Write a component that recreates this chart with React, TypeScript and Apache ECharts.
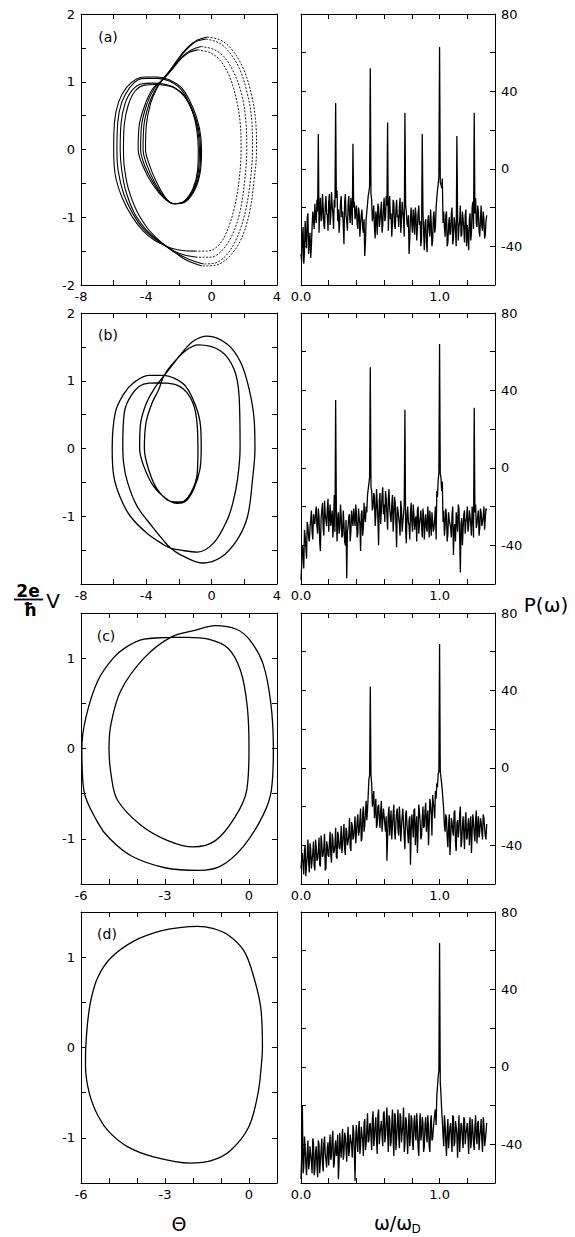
import React, { useEffect, useRef } from "react";
import * as echarts from "echarts";

const FONT = "DejaVu Sans";

// ---------------- Power spectra (right column) ----------------
// noise samples: "noiseX" on the 0.00, 0.01, ... grid, "noiseX2" on the 0.005, 0.015, ... grid
const specStep = 0.01;

const noiseA = [
  -44, -36, -49, -27, -41, -23, -38, -46, -30, -26,
  -18, -28, -22, -33, -15, -26, -20, -31, -14, -24,
  -17, -29, -12, -23, -16, -30, -11, -21, -26, -14,
  -22, -39, -13, -27, -18, -24, -15, -29, -20, -26,
  -19, -31, -23, -28, -21, -33, -45, -26, -18, -12,
  -10, -16, -24, -30, -22, -34, -20, -27, -17, -29,
  -15, -25, -19, -32, -14, -23, -28, -18, -31, -16,
  -24, -20, -33, -17, -26, -14, -22, -30, -44, -25,
  -29, -21, -34, -24, -31, -19, -27, -36, -22, -42,
  -26, -43, -24, -35, -28, -37, -22, -30, -15, -8,
  -5, -8, -5, -22, -35, -22, -38, -25, -33, -20,
  -36, -28, -40, -24, -30, -19, -34, -26, -38, -21,
  -29, -42, -23, -33, -17, -27, -15, -30, -22, -35,
  -19, -32, -26, -34, -24,
];
const noiseA2 = [
  -48, -30, -43, -35, -25, -44, -33, -40, -22, -31,
  -25, -16, -30, -21, -27, -13, -29, -19, -23, -32,
  -13, -24, -19, -31, -20, -15, -27, -33, -18, -25,
  -29, -17, -24, -32, -14, -28, -21, -33, -17, -23,
  -28, -20, -35, -24, -30, -26, -38, -22, -14, -9,
  -13, -27, -19, -36, -25, -18, -30, -22, -33, -20,
  -27, -14, -30, -22, -26, -35, -16, -29, -21, -25,
  -30, -15, -27, -22, -35, -19, -28, -24, -36, -20,
  -33, -26, -20, -37, -23, -29, -40, -25, -33, -28,
  -38, -27, -31, -21, -40, -25, -33, -20, -11, -4,
  -7, -10, -28, -30, -24, -40, -29, -34, -23, -39,
  -25, -33, -20, -37, -27, -35, -22, -31, -24, -40,
  -34, -26, -37, -20, -31, -23, -28, -19, -32, -26,
  -30, -22, -36, -27,
];
const peakXA = [0.125, 0.25, 0.375, 0.5, 0.625, 0.75, 0.875, 1.0, 1.125, 1.25];
const peakYA = [18, 34, 13, 52, 24, 29, 18, 63, 17, 29];

const noiseB = [
  -58, -40, -52, -35, -47, -30, -38, -27, -33, -24,
  -29, -20, -34, -25, -43, -22, -31, -17, -27, -21,
  -33, -19, -26, -36, -14, -28, -38, -23, -31, -25,
  -35, -29, -40, -57, -30, -24, -33, -27, -21, -30,
  -24, -34, -26, -43, -22, -31, -25, -20, -14, -8,
  -8, -12, -20, -15, -25, -18, -40, -13, -22, -10,
  -19, -12, -24, -16, -21, -28, -14, -26, -18, -41,
  -22, -29, -17, -33, -24, -27, -39, -20, -30, -23,
  -28, -19, -32, -25, -22, -34, -26, -30, -21, -37,
  -24, -33, -27, -22, -35, -28, -31, -20, -12, -6,
  -4, -5, -7, -22, -30, -25, -34, -27, -31, -24,
  -45, -29, -23, -33, -21, -54, -26, -31, -22, -28,
  -20, -30, -25, -35, -24, -27, -19, -29, -22, -31,
  -23, -28, -20, -26, -22,
];
const noiseB2 = [
  -50, -44, -32, -41, -28, -36, -31, -22, -37, -28,
  -23, -30, -21, -38, -26, -18, -35, -24, -30, -16,
  -25, -30, -22, -29, -33, -20, -27, -34, -19, -36,
  -22, -38, -27, -33, -25, -38, -22, -30, -26, -19,
  -36, -21, -29, -24, -35, -18, -28, -23, -11, -5,
  -10, -22, -13, -30, -11, -26, -17, -29, -14, -24,
  -28, -16, -32, -11, -25, -19, -33, -15, -29, -20,
  -26, -35, -21, -28, -19, -32, -24, -28, -37, -18,
  -33, -24, -27, -38, -20, -29, -22, -36, -25, -29,
  -31, -20, -36, -29, -23, -33, -26, -37, -15, -3,
  -3, -12, -28, -35, -21, -38, -23, -29, -36, -20,
  -32, -38, -27, -19, -36, -29, -40, -24, -34, -26,
  -33, -22, -29, -20, -36, -23, -31, -25, -35, -21,
  -30, -25, -32, -21,
];
const peakXB = [0.25, 0.5, 0.75, 1.0, 1.25];
const peakYB = [35, 52, 30, 64, 31];

const noiseC = [
  -52, -44, -55, -40, -50, -37, -54, -42, -48, -38,
  -53, -41, -47, -36, -51, -39, -45, -34, -52, -40,
  -46, -33, -49, -37, -43, -31, -47, -35, -42, -30,
  -40, -29, -45, -33, -38, -26, -43, -30, -36, -25,
  -39, -24, -33, -21, -36, -20, -30, -17, -22, -6,
  -10, -8, -16, -26, -16, -29, -19, -31, -17, -27,
  -21, -33, -48, -24, -35, -22, -30, -19, -37, -23,
  -32, -20, -38, -25, -29, -42, -22, -34, -27, -50,
  -24, -36, -21, -31, -44, -19, -28, -35, -20, -30,
  -18, -27, -40, -16, -24, -14, -21, -12, -8, -3,
  -2, -5, -12, -22, -33, -26, -41, -24, -37, -28,
  -35, -22, -43, -27, -32, -20, -38, -25, -42, -23,
  -36, -26, -31, -44, -24, -34, -27, -39, -25, -33,
  -28, -37, -26, -35, -29,
];
const noiseC2 = [
  -47, -51, -43, -56, -45, -49, -39, -52, -44, -50,
  -37, -48, -43, -50, -35, -46, -41, -53, -38, -45,
  -39, -45, -34, -44, -40, -46, -33, -41, -38, -44,
  -34, -42, -31, -40, -35, -41, -28, -37, -31, -39,
  -28, -35, -27, -38, -24, -33, -23, -27, -14, -4,
  -4, -20, -12, -22, -31, -20, -26, -22, -33, -21,
  -29, -25, -36, -20, -28, -37, -24, -33, -28, -21,
  -35, -27, -31, -21, -36, -24, -30, -39, -25, -33,
  -29, -22, -40, -25, -33, -23, -37, -26, -31, -22,
  -33, -22, -30, -19, -35, -18, -26, -16, -10, -2,
  -2, -8, -17, -30, -24, -36, -30, -45, -26, -33,
  -23, -39, -29, -36, -24, -41, -30, -34, -27, -37,
  -29, -40, -25, -33, -28, -38, -22, -31, -36, -26,
  -33, -24, -31, -37,
];
const peakXC = [0.5, 1.0];
const peakYC = [42, 64];

const noiseD = [
  -58, -20, -52, -42, -56, -38, -50, -45, -55, -39,
  -53, -41, -57, -40, -49, -37, -54, -36, -48, -42,
  -51, -35, -46, -33, -50, -38, -44, -58, -34, -47,
  -32, -45, -36, -49, -31, -43, -38, -47, -33, -59,
  -30, -44, -28, -41, -35, -46, -27, -40, -24, -38,
  -29, -43, -23, -37, -26, -45, -22, -35, -28, -41,
  -23, -36, -21, -44, -27, -39, -22, -46, -25, -37,
  -22, -42, -26, -34, -21, -40, -28, -45, -24, -36,
  -27, -43, -25, -38, -30, -46, -24, -35, -29, -41,
  -26, -39, -31, -44, -25, -37, -28, -22, -15, -5,
  -3, -14, -28, -41, -30, -46, -27, -36, -29, -44,
  -26, -39, -31, -47, -25, -37, -30, -42, -27, -35,
  -29, -45, -26, -38, -32, -43, -25, -40, -28, -36,
  -27, -44, -30, -38, -29,
];
const noiseD2 = [
  -46, -55, -36, -50, -44, -53, -41, -49, -37, -56,
  -44, -51, -38, -55, -43, -50, -40, -45, -52, -39,
  -43, -48, -37, -52, -42, -46, -35, -49, -41, -38,
  -48, -34, -42, -37, -46, -35, -40, -30, -44, -36,
  -39, -33, -45, -31, -38, -29, -43, -32, -39, -30,
  -36, -27, -41, -30, -38, -25, -40, -31, -36, -24,
  -39, -28, -34, -25, -41, -30, -37, -24, -43, -29,
  -36, -24, -39, -30, -44, -26, -37, -31, -41, -25,
  -40, -29, -35, -24, -42, -31, -38, -26, -44, -30,
  -35, -25, -41, -29, -38, -32, -24, -30, -10, -2,
  -8, -22, -35, -25, -39, -33, -42, -31, -38, -25,
  -41, -28, -36, -33, -44, -29, -38, -26, -40, -32,
  -37, -30, -42, -27, -39, -31, -36, -29, -43, -33,
  -38, -26, -41, -34,
];
const peakXD = [1.0];
const peakYD = [64];

// ---------------- Phase portraits (left column) : [θ, (2e/ħ)V] ----------------
// (a) period-8 : four big loops, right arcs drawn dotted
const aRight1 = [[-0.27, 1.66], [0.5, 1.62], [1.15, 1.5], [1.85, 1.24], [2.4, 0.85], [2.7, 0.4], [2.75, 0], [2.6, -0.45], [2.3, -0.95], [1.75, -1.35], [1.0, -1.6], [0.2, -1.71], [-0.6, -1.72]];
const aLeft1 = [[-0.6, -1.72], [-1.5, -1.64], [-2.2, -1.53], [-2.83, -1.42], [-3.4, -1.3], [-4.0, -1.14], [-4.6, -0.9], [-5.1, -0.58], [-5.35, -0.25], [-5.4, 0], [-5.35, 0.37], [-5.1, 0.66], [-4.7, 0.86], [-4.1, 0.95], [-3.4, 0.96], [-2.9, 0.95], [-2.3, 0.91], [-1.65, 0.78], [-1.15, 0.54], [-0.9, 0.27], [-0.82, 0], [-0.86, -0.3], [-1.15, -0.58], [-1.72, -0.77], [-2.3, -0.8], [-2.8, -0.72], [-3.4, -0.47], [-3.85, -0.2], [-4.05, 0], [-4.0, 0.36], [-3.75, 0.67], [-3.4, 0.88], [-3.04, 1.02], [-2.4, 1.22], [-1.7, 1.45], [-1.0, 1.6], [-0.27, 1.66]];
const aRight2 = [[-0.35, 1.63], [0.4, 1.58], [1.0, 1.46], [1.65, 1.22], [2.15, 0.86], [2.45, 0.44], [2.5, 0], [2.37, -0.46], [2.05, -0.93], [1.55, -1.3], [0.9, -1.56], [0.15, -1.68], [-0.5, -1.69]];
const aLeft2 = [[-0.5, -1.69], [-1.4, -1.62], [-2.2, -1.52], [-2.83, -1.42], [-3.45, -1.31], [-4.1, -1.16], [-4.75, -0.93], [-5.25, -0.62], [-5.52, -0.28], [-5.6, 0], [-5.55, 0.38], [-5.3, 0.68], [-4.85, 0.88], [-4.25, 0.97], [-3.6, 0.98], [-3.0, 0.97], [-2.4, 0.93], [-1.7, 0.8], [-1.15, 0.55], [-0.85, 0.28], [-0.75, 0], [-0.8, -0.3], [-1.1, -0.58], [-1.7, -0.77], [-2.3, -0.8], [-2.85, -0.72], [-3.5, -0.48], [-3.98, -0.22], [-4.2, 0], [-4.15, 0.35], [-3.85, 0.66], [-3.45, 0.88], [-3.04, 1.02], [-2.42, 1.2], [-1.75, 1.42], [-1.05, 1.58], [-0.35, 1.63]];
const aRight3 = [[-0.65, 1.52], [0.1, 1.48], [0.75, 1.37], [1.35, 1.14], [1.85, 0.8], [2.1, 0.4], [2.15, 0], [2.02, -0.46], [1.75, -0.9], [1.3, -1.24], [0.6, -1.5], [-0.1, -1.59], [-0.88, -1.59]];
const aLeft3 = [[-0.88, -1.59], [-1.6, -1.56], [-2.3, -1.5], [-2.83, -1.42], [-3.48, -1.32], [-4.15, -1.18], [-4.82, -0.95], [-5.38, -0.66], [-5.72, -0.32], [-5.8, 0], [-5.75, 0.4], [-5.5, 0.7], [-5.0, 0.92], [-4.5, 1.03], [-4.0, 1.05], [-3.3, 1.05], [-2.6, 1.01], [-1.85, 0.88], [-1.2, 0.6], [-0.8, 0.3], [-0.68, 0], [-0.73, -0.3], [-1.05, -0.58], [-1.65, -0.77], [-2.3, -0.8], [-2.9, -0.71], [-3.55, -0.5], [-4.1, -0.24], [-4.35, 0], [-4.3, 0.34], [-3.98, 0.66], [-3.52, 0.9], [-3.04, 1.02], [-2.45, 1.18], [-1.85, 1.36], [-1.25, 1.47], [-0.65, 1.52]];
const aRight4 = [[-0.85, 1.47], [-0.1, 1.43], [0.5, 1.32], [1.05, 1.1], [1.5, 0.76], [1.75, 0.38], [1.8, 0], [1.68, -0.45], [1.4, -0.85], [0.95, -1.2], [0.4, -1.42], [-0.3, -1.5], [-1.0, -1.5]];
const aLeft4 = [[-1.0, -1.5], [-1.8, -1.49], [-2.4, -1.46], [-2.83, -1.42], [-3.5, -1.34], [-4.2, -1.2], [-4.9, -0.98], [-5.5, -0.7], [-5.9, -0.38], [-6.0, 0], [-5.95, 0.4], [-5.7, 0.7], [-5.2, 0.92], [-4.6, 1.04], [-4.1, 1.07], [-3.3, 1.07], [-2.6, 1.03], [-1.8, 0.9], [-1.15, 0.62], [-0.75, 0.32], [-0.62, 0], [-0.68, -0.3], [-1.0, -0.58], [-1.6, -0.77], [-2.3, -0.8], [-2.9, -0.72], [-3.6, -0.52], [-4.2, -0.25], [-4.5, 0], [-4.45, 0.33], [-4.1, 0.65], [-3.6, 0.9], [-3.04, 1.02], [-2.5, 1.16], [-1.95, 1.32], [-1.4, 1.43], [-0.85, 1.47]];

// (b) period-4 trajectory
const bTraj = [
  [-2.93, 1.07], [-1.9, 1.39], [-1.09, 1.59], [-0.27, 1.66], [0.96, 1.54], [1.78, 1.27], [2.3, 0.87], [2.6, 0.43], [2.65, 0], [2.5, -0.46], [2.2, -1.0], [1.58, -1.34], [0.55, -1.61], [-0.57, -1.69], [-1.9, -1.57], [-2.52, -1.47], [-2.94, -1.36], [-3.65, -1.15], [-4.57, -0.85], [-5.15, -0.5], [-5.4, -0.2], [-5.44, 0.05], [-5.35, 0.53], [-4.88, 0.8], [-4.16, 0.95], [-3.34, 0.97], [-2.32, 0.95], [-1.5, 0.82], [-0.98, 0.53], [-0.84, 0], [-0.88, -0.36], [-1.29, -0.66], [-1.91, -0.79], [-2.52, -0.78], [-3.34, -0.6], [-3.86, -0.31], [-4.12, 0], [-4.02, 0.38], [-3.65, 0.67], [-3.24, 0.87], [-2.93, 1.07],
  [-2.32, 1.27], [-1.5, 1.46], [-0.82, 1.53], [0.55, 1.44], [1.37, 1.17], [1.68, 0.77], [1.74, 0], [1.58, -0.46], [1.3, -0.8], [0.96, -1.05], [0.14, -1.39], [-0.88, -1.53], [-1.9, -1.5], [-2.52, -1.47], [-2.94, -1.42], [-3.96, -1.25], [-4.98, -1.0], [-5.6, -0.72], [-6.0, -0.4], [-6.09, 0], [-5.9, 0.53], [-5.4, 0.8], [-4.78, 0.97], [-3.86, 1.08], [-2.93, 1.08], [-2.32, 1.04], [-1.6, 0.92], [-0.98, 0.63], [-0.68, 0.33], [-0.64, 0], [-0.72, -0.31], [-1.1, -0.6], [-1.6, -0.78], [-2.11, -0.81], [-2.73, -0.75], [-3.55, -0.56], [-4.16, -0.26], [-4.41, 0], [-4.37, 0.33], [-4.06, 0.63], [-3.55, 0.87], [-2.93, 1.07], [-1.9, 1.39],
];

// (c) period-2 trajectory
const cTraj = [
  [-2.8, 1.23], [-3.75, 1.21], [-4.4, 1.12], [-4.85, 1.0], [-5.4, 0.75], [-5.82, 0.35], [-5.97, 0], [-5.9, -0.46], [-5.4, -0.82], [-4.97, -1.0], [-4.2, -1.19], [-3.0, -1.32], [-1.8, -1.35], [-1.0, -1.3], [-0.19, -1.08], [0.5, -0.74], [0.8, -0.46], [0.87, 0], [0.78, 0.5], [0.5, 0.94], [0.03, 1.2], [-0.45, 1.32], [-1.2, 1.36], [-1.9, 1.31], [-2.8, 1.23],
  [-3.75, 1.0], [-4.58, 0.64], [-4.93, 0.27], [-5.0, 0], [-4.92, -0.3], [-4.7, -0.57], [-3.86, -0.85], [-2.9, -1.02], [-2.0, -1.09], [-1.2, -1.02], [-0.5, -0.76], [-0.08, -0.46], [0.0, 0], [-0.06, 0.46], [-0.3, 0.86], [-0.75, 1.11], [-1.45, 1.21], [-2.2, 1.23], [-2.8, 1.23], [-3.75, 1.21],
];

// (d) period-1 loop
const dLoop = [
  [-5.83, 0], [-5.77, 0.26], [-5.65, 0.52], [-5.41, 0.77], [-4.94, 0.99], [-4.1, 1.18], [-3.15, 1.29], [-2.4, 1.33], [-1.84, 1.34], [-1.3, 1.32], [-0.77, 1.25], [-0.18, 1.07], [0.18, 0.77], [0.42, 0.44], [0.48, 0], [0.44, -0.2], [0.32, -0.51], [-0.01, -0.88], [-0.66, -1.14], [-1.32, -1.25], [-2.1, -1.28], [-3.41, -1.21], [-4.33, -1.1], [-4.98, -0.94], [-5.37, -0.77], [-5.7, -0.51], [-5.84, -0.2], [-5.83, 0], [-5.77, 0.26],
];

// ---------------- helpers ----------------
function buildSpectrum(noise: number[], noise2: number[], px: number[], py: number[]) {
  const grid1 = noise.map((v, i) => [Number((i * specStep).toFixed(3)), v]);
  const grid2 = noise2.map((v, i) => [Number((specStep / 2 + i * specStep).toFixed(3)), v]);
  const pts: number[][] = [...grid1, ...grid2].filter(([x]) => !px.some((p) => Math.abs(p - x) < 1e-6));
  px.forEach((x, i) => pts.push([x, py[i]]));
  pts.sort((a, b) => a[0] - b[0]);
  return pts;
}

const labelStyle = { fontFamily: FONT, fontSize: 13, color: "#000" };
const lineCol = "#000";

const ROW_TOPS = [14, 313, 613, 912];
const PANEL_H = 271;

type Panel = {
  left: number; top: number; width: number;
  xMin: number; xMax: number; xInt: number; xFmt: (v: number) => string;
  yMin: number; yMax: number; yInt: number; yFmt: (v: number) => string;
  yLabelRight: boolean;
  series: { data: number[][]; dashed?: boolean; smooth: boolean; width: number }[];
};

function buildOption() {
  const phaseXa = (v: number) => (v % 4 === 0 ? String(v) : "");
  const phaseXc = (v: number) => (v % 3 === 0 ? String(v) : "");
  const intLab = (v: number) => (Number.isInteger(v) ? String(v) : "");
  const intLabNoM2 = (v: number) => (Number.isInteger(v) && v !== -2 ? String(v) : "");
  const specX = (v: number) => (Math.abs(v) < 1e-9 ? "0.0" : Math.abs(v - 1) < 1e-9 ? "1.0" : "");
  const specY = (v: number) => (Math.round(v) % 40 === 0 ? String(Math.round(v)) : "");

  const leftPhase = (row: number, big: boolean, yFmt: (v: number) => string, series: Panel["series"]): Panel => ({
    left: 81, top: ROW_TOPS[row], width: 196,
    xMin: big ? -8 : -6, xMax: big ? 4 : 1, xInt: big ? 2 : 1, xFmt: big ? phaseXa : phaseXc,
    yMin: big ? -2 : -1.5, yMax: big ? 2 : 1.5, yInt: 0.5, yFmt,
    yLabelRight: false, series,
  });
  const rightSpec = (row: number, data: number[][]): Panel => ({
    left: 301, top: ROW_TOPS[row], width: 194,
    xMin: 0, xMax: 1.4, xInt: 0.2, xFmt: specX,
    yMin: -60, yMax: 80, yInt: 20, yFmt: specY,
    yLabelRight: true,
    series: [{ data, smooth: false, width: 1.3 }],
  });

  const aSeries: Panel["series"] = [];
  [[aRight1, aLeft1], [aRight2, aLeft2], [aRight3, aLeft3], [aRight4, aLeft4]].forEach(([r, l]) => {
    aSeries.push({ data: r, dashed: true, smooth: true, width: 0.9 });
    aSeries.push({ data: l, smooth: true, width: 1.1 });
  });

  const panels: Panel[] = [
    leftPhase(0, true, intLab, aSeries),
    rightSpec(0, buildSpectrum(noiseA, noiseA2, peakXA, peakYA)),
    leftPhase(1, true, intLabNoM2, [{ data: bTraj, smooth: true, width: 1.3 }]),
    rightSpec(1, buildSpectrum(noiseB, noiseB2, peakXB, peakYB)),
    leftPhase(2, false, intLab, [{ data: cTraj, smooth: true, width: 1.3 }]),
    rightSpec(2, buildSpectrum(noiseC, noiseC2, peakXC, peakYC)),
    leftPhase(3, false, intLab, [{ data: dLoop, smooth: true, width: 1.3 }]),
    rightSpec(3, buildSpectrum(noiseD, noiseD2, peakXD, peakYD)),
  ];

  const grid: any[] = [];
  const xAxis: any[] = [];
  const yAxis: any[] = [];
  const series: any[] = [];

  panels.forEach((p, k) => {
    grid.push({ left: p.left, top: p.top, width: p.width, height: PANEL_H, containLabel: false });
    const common = {
      type: "value",
      gridIndex: k,
      splitLine: { show: false },
      axisLine: { show: true, onZero: false, lineStyle: { color: lineCol, width: 1 } },
      axisTick: { show: true, inside: true, length: 5, lineStyle: { color: lineCol, width: 1 } },
    };
    const xc = { ...common, min: p.xMin, max: p.xMax, interval: p.xInt };
    const yc = { ...common, min: p.yMin, max: p.yMax, interval: p.yInt };
    xAxis.push({ ...xc, position: "bottom", axisLabel: { show: true, margin: 5, formatter: p.xFmt, ...labelStyle } });
    xAxis.push({ ...xc, position: "top", axisLabel: { show: false } });
    yAxis.push({ ...yc, position: "left", axisLabel: { show: !p.yLabelRight, margin: 6, formatter: p.yFmt, ...labelStyle } });
    yAxis.push({ ...yc, position: "right", axisLabel: { show: p.yLabelRight, margin: 6, formatter: p.yFmt, ...labelStyle } });
    p.series.forEach((s) => {
      series.push({
        type: "line",
        xAxisIndex: 2 * k,
        yAxisIndex: 2 * k,
        data: s.data,
        showSymbol: false,
        symbol: "none",
        smooth: s.smooth ? 0.35 : false,
        silent: true,
        lineStyle: { color: lineCol, width: s.width, type: s.dashed ? [2, 1.5] : "solid" },
      });
    });
  });

  const txt = (text: string, x: number, y: number, font: string, align = "center") => ({
    type: "text",
    x, y,
    silent: true,
    style: { text, font, fill: "#000", align, verticalAlign: "middle" },
  });

  const graphic: any[] = [
    txt("(a)", 108, 37, `14px "${FONT}"`),
    txt("(b)", 108, 335, `14px "${FONT}"`),
    txt("(c)", 106, 636, `14px "${FONT}"`),
    txt("(d)", 107, 934, `14px "${FONT}"`),
    txt("2e", 28, 591, `bold 17px "${FONT}"`),
    { type: "line", silent: true, shape: { x1: 14, y1: 599.5, x2: 43, y2: 599.5 }, style: { stroke: "#000", lineWidth: 1.8 } },
    txt("ħ", 30, 610, `bold 17px "${FONT}"`),
    txt("V", 53, 601, `20px "${FONT}"`),
    txt("P(ω)", 546, 605, `20px "${FONT}"`),
    txt("Θ", 179, 1224, `19px "${FONT}"`),
    txt("ω/ω", 393, 1223, `19px "${FONT}"`),
    txt("D", 416, 1229, `12px "${FONT}"`),
  ];

  return {
    animation: false,
    backgroundColor: "#fff",
    grid,
    xAxis,
    yAxis,
    series,
    graphic,
  };
}

export default function App() {
  const ref = useRef<HTMLDivElement>(null);
  useEffect(() => {
    if (!ref.current) return;
    const chart = echarts.init(ref.current, null, { renderer: "svg" });
    chart.setOption(buildOption() as any);
    return () => chart.dispose();
  }, []);
  return (
    <div
      ref={ref}
      style={{ position: "fixed", left: 0, top: 0, width: 575, height: 1237, background: "#fff" }}
    />
  );
}
